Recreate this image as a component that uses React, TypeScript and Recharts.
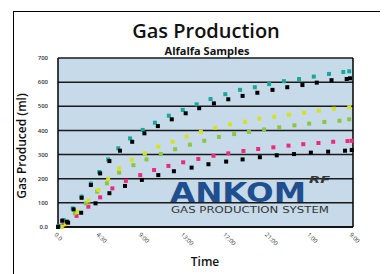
import { ScatterChart, Scatter, XAxis, YAxis, CartesianGrid, ReferenceLine } from "recharts"

// x is in tick units (0 = first label, 7 = last label)
const X_LABELS = ["0.0", "4:30", "9:00", "13:00", "17:00", "21:00", "1:00", "9:00"]
const Y_TICKS = [0, 100, 200, 300, 400, 500, 600, 700]
const Y_LABELS = ["0.0", "100", "200", "300", "400", "500", "600", "700"]

const teal = [
  { t: 0.02, v: 5 }, { t: 0.13, v: 29 }, { t: 0.35, v: 77 }, { t: 0.56, v: 126 }, { t: 0.78, v: 180 },
  { t: 0.98, v: 228 }, { t: 1.19, v: 280 }, { t: 1.43, v: 326 }, { t: 1.71, v: 367 }, { t: 2.01, v: 402 },
  { t: 2.3, v: 432 }, { t: 2.63, v: 461 }, { t: 2.96, v: 485 }, { t: 3.29, v: 508 }, { t: 3.62, v: 530 },
  { t: 3.97, v: 550 }, { t: 4.32, v: 568 }, { t: 4.67, v: 579 }, { t: 5.01, v: 592 }, { t: 5.36, v: 604 },
  { t: 5.72, v: 613 }, { t: 6.07, v: 623 }, { t: 6.43, v: 634 }, { t: 6.77, v: 642 }, { t: 6.91, v: 645 },
]
const blackHigh = [
  { t: 0.0, v: 0 }, { t: 0.1, v: 26 }, { t: 0.21, v: 22 }, { t: 0.37, v: 73 }, { t: 0.56, v: 121 },
  { t: 0.78, v: 174 }, { t: 1.0, v: 222 }, { t: 1.22, v: 273 }, { t: 1.47, v: 316 }, { t: 1.76, v: 353 },
  { t: 2.05, v: 388 }, { t: 2.37, v: 418 }, { t: 2.7, v: 446 }, { t: 3.03, v: 471 }, { t: 3.35, v: 492 },
  { t: 3.7, v: 512 }, { t: 4.04, v: 529 }, { t: 4.38, v: 543 }, { t: 4.73, v: 556 }, { t: 5.09, v: 568 },
  { t: 5.44, v: 579 }, { t: 5.8, v: 588 }, { t: 6.14, v: 598 }, { t: 6.49, v: 608 }, { t: 6.85, v: 613 },
  { t: 6.93, v: 616 },
]
const yellow = [
  { t: 0.09, v: 0 }, { t: 0.18, v: 12 }, { t: 0.46, v: 63 }, { t: 0.72, v: 109 }, { t: 0.96, v: 153 },
  { t: 1.19, v: 199 }, { t: 1.45, v: 243 }, { t: 1.75, v: 278 }, { t: 2.06, v: 305 }, { t: 2.38, v: 333 },
  { t: 2.72, v: 353 }, { t: 3.05, v: 374 }, { t: 3.39, v: 394 }, { t: 3.73, v: 411 }, { t: 4.08, v: 425 },
  { t: 4.44, v: 436 }, { t: 4.78, v: 449 }, { t: 5.13, v: 457 }, { t: 5.48, v: 465 }, { t: 5.84, v: 473 },
  { t: 6.19, v: 482 }, { t: 6.55, v: 490 }, { t: 6.91, v: 496 },
]
const green = [
  { t: 0.05, v: 4 }, { t: 0.4, v: 57 }, { t: 0.66, v: 98 }, { t: 0.93, v: 146 }, { t: 1.16, v: 181 },
  { t: 1.45, v: 225 }, { t: 1.79, v: 256 }, { t: 2.1, v: 280 }, { t: 2.44, v: 302 }, { t: 2.78, v: 322 },
  { t: 3.13, v: 341 }, { t: 3.47, v: 357 }, { t: 3.82, v: 373 }, { t: 4.18, v: 385 }, { t: 4.53, v: 394 },
  { t: 4.89, v: 404 }, { t: 5.25, v: 413 }, { t: 5.61, v: 421 }, { t: 5.96, v: 428 }, { t: 6.32, v: 435 },
  { t: 6.68, v: 440 }, { t: 6.91, v: 446 },
]
const pink = [
  { t: 0.01, v: 0 }, { t: 0.13, v: 8 }, { t: 0.44, v: 46 }, { t: 0.72, v: 84 }, { t: 1.0, v: 123 },
  { t: 1.29, v: 160 }, { t: 1.61, v: 191 }, { t: 1.95, v: 215 }, { t: 2.28, v: 236 }, { t: 2.62, v: 253 },
  { t: 2.97, v: 268 }, { t: 3.33, v: 282 }, { t: 3.69, v: 295 }, { t: 4.04, v: 305 }, { t: 4.4, v: 315 },
  { t: 4.75, v: 323 }, { t: 5.11, v: 330 }, { t: 5.47, v: 337 }, { t: 5.82, v: 343 }, { t: 6.18, v: 348 },
  { t: 6.53, v: 353 }, { t: 6.87, v: 356 }, { t: 6.97, v: 357 },
]
const blackLow = [
  { t: 0.0, v: 1 }, { t: 0.24, v: 18 }, { t: 0.55, v: 59 }, { t: 0.89, v: 98 }, { t: 1.22, v: 140 },
  { t: 1.59, v: 170 }, { t: 1.99, v: 195 }, { t: 2.38, v: 215 }, { t: 2.75, v: 231 }, { t: 3.17, v: 246 },
  { t: 3.57, v: 260 }, { t: 3.99, v: 271 }, { t: 4.38, v: 280 }, { t: 4.79, v: 289 }, { t: 5.19, v: 297 },
  { t: 5.6, v: 302 }, { t: 6.0, v: 308 }, { t: 6.41, v: 312 }, { t: 6.81, v: 316 }, { t: 6.97, v: 319 },
]

const SERIES = [
  { name: "pink", data: pink, color: "#ec2a7c" },
  { name: "green", data: green, color: "#8cc63f" },
  { name: "yellow", data: yellow, color: "#d6e21c" },
  { name: "teal", data: teal, color: "#18a79b" },
  { name: "blackLow", data: blackLow, color: "#000000" },
  { name: "blackHigh", data: blackHigh, color: "#000000" },
]

const Square = (props: any) => {
  const { cx, cy, fill } = props
  return <rect x={cx - 2} y={cy - 2} width={4} height={4} fill={fill} />
}

const XTick = (props: any) => {
  const { x, y, payload } = props
  return (
    <text x={x - 2} y={y} transform={`rotate(45 ${x - 2} ${y})`} fontSize={6} fill="#333" textAnchor="start" dy={3}>
      {X_LABELS[payload.value]}
    </text>
  )
}

export default function App() {
  return (
    <div style={{ position: "relative", width: 380, height: 266, overflow: "hidden", fontFamily: "Open Sans" }}>
      <div
        style={{
          position: "absolute", left: 5, top: 3, width: 420, height: 300,
          borderTop: "1.5px solid #000", borderLeft: "1.5px solid #000",
        }}
      />
      <ScatterChart width={380} height={266} margin={{ top: 50, right: 35, left: 0, bottom: 0 }}>
        <CartesianGrid vertical={false} fill="#c6dae9" stroke="#1a1a1a" strokeWidth={1.5} />
        <XAxis
          type="number" dataKey="t" domain={[0, 7]} ticks={[0, 1, 2, 3, 4, 5, 6, 7]}
          height={47} tickLine={false} tickSize={0} tickMargin={6}
          axisLine={{ stroke: "#000", strokeWidth: 1.5 }} tick={<XTick />}
        />
        <YAxis
          type="number" dataKey="v" domain={[0, 700]} ticks={Y_TICKS}
          width={50} tickLine={false} tickSize={0} tickMargin={10}
          axisLine={{ stroke: "#000", strokeWidth: 1.5 }}
          tick={{ fontSize: 6, fill: "#333", fontWeight: 600 }}
          tickFormatter={(v: number) => Y_LABELS[Y_TICKS.indexOf(v)]}
        />
        <ReferenceLine x={7} stroke="#000" strokeWidth={1.5} />
        {SERIES.map((s) => (
          <Scatter key={s.name} data={s.data} fill={s.color} shape={<Square />} isAnimationActive={false} />
        ))}
      </ScatterChart>
      <svg width={380} height={266} style={{ position: "absolute", left: 0, top: 0, pointerEvents: "none" }}>
        <text x={198} y={30} textAnchor="middle" fontSize={20} fontWeight={600} fill="#111" fontFamily="Open Sans">
          Gas Production
        </text>
        <text x={199} y={47} textAnchor="middle" fontSize={11} fontWeight={700} fill="#111" fontFamily="Open Sans">
          Alfalfa Samples
        </text>
        <text
          x={14} y={138} transform="rotate(-90 14 138)" textAnchor="middle" dy={4}
          fontSize={12} fontWeight={600} fill="#111" fontFamily="Open Sans"
        >
          Gas Produced (ml)
        </text>
        <text x={197} y={258} textAnchor="middle" fontSize={12} fontWeight={600} fill="#111" fontFamily="Open Sans">
          Time
        </text>
        <text x={162} y={194} fontSize={27} fontWeight={700} fill="#1f4f8e" fontFamily="DejaVu Sans" textLength={136} lengthAdjust="spacingAndGlyphs">
          ANKOM
        </text>
        <text x={301} y={175} fontSize={9} fontStyle="italic" fontWeight={700} fill="#333" fontFamily="DejaVu Sans" textLength={21} lengthAdjust="spacingAndGlyphs">
          RF
        </text>
        <text x={163} y={205} fontSize={9} fill="#333" fontFamily="DejaVu Sans" textLength={158} lengthAdjust="spacingAndGlyphs">
          GAS PRODUCTION SYSTEM
        </text>
      </svg>
    </div>
  )
}
